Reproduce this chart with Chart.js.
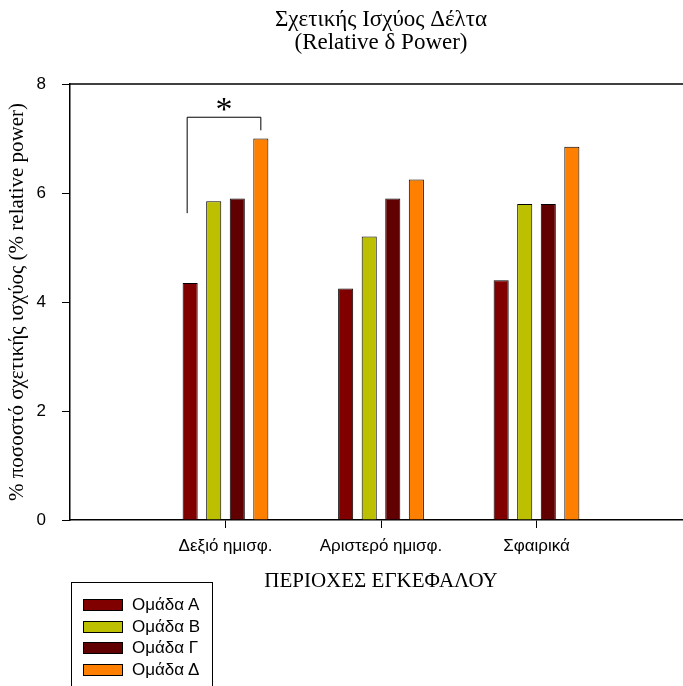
<!DOCTYPE html>
<html>
<head>
<meta charset="utf-8">
<script src="https://cdn.jsdelivr.net/npm/chart.js@4/dist/chart.umd.min.js"></script>
<style>
    html, body { margin: 0; padding: 0; background: #fff; overflow: hidden; }
    #wrap { position: relative; width: 683px; height: 686px; overflow: hidden; }
    #chartBox { position: absolute; left: 0; top: 0; width: 700px; height: 686px; }
    #legend {
        position: absolute; left: 71px; top: 582px; width: 142px; height: 120px;
        border: 1px solid #000; box-sizing: border-box;
        font-family: 'Liberation Sans', Arial, sans-serif; font-size: 17px; color: #000;
        padding-top: 11px;
    }
    .legend__row { display: flex; align-items: center; height: 21.7px; padding-left: 11px; }
    .legend__swatch { width: 40px; height: 12px; border: 1px solid #000; box-sizing: border-box; margin-right: 9px; }
</style>
</head>
<body>
<div id="wrap">
    <div id="chartBox"><canvas id="deltaChart" width="700" height="686"></canvas></div>
    <div id="legend"></div>
</div>
<script>
// Data
const regions = ['Δεξιό ημισφ.', 'Αριστερό ημισφ.', 'Σφαιρικά'];
const groupNames = ['Ομάδα Α', 'Ομάδα Β', 'Ομάδα Γ', 'Ομάδα Δ'];
const groupA = [4.35, 4.25, 4.4];
const groupB = [5.85, 5.2, 5.8];
const groupC = [5.9, 5.9, 5.8];
const groupD = [7.0, 6.25, 6.85];
const yTicks = [0, 2, 4, 6, 8];

const groupColors = ['#800000', '#bcc000', '#600000', '#ff8000'];

// empty slots either side so the three regions sit where the original put them
const labels = [''].concat(regions, ['']);
function pad(values) {
    return [null].concat(values, [null]);
}

const seriesValues = [groupA, groupB, groupC, groupD];
const datasets = seriesValues.map((values, i) => ({
    label: groupNames[i],
    data: pad(values),
    backgroundColor: groupColors[i],
    borderColor: '#000',
    borderWidth: 1,
    barPercentage: 0.64,
    categoryPercentage: 0.606
}));

// Frame line along the top of the plot area
const topFrame = {
    id: 'topFrame',
    afterDraw(chart) {
        const ctx = chart.ctx;
        const area = chart.chartArea;
        ctx.save();
        ctx.strokeStyle = '#000';
        ctx.lineWidth = 1.5;
        ctx.beginPath();
        ctx.moveTo(area.left, area.top);
        ctx.lineTo(area.right, area.top);
        ctx.stroke();
        ctx.restore();
    }
};

// Significance bracket between group A and group Δ on the right hemisphere
const sigBracket = {
    id: 'sigBracket',
    afterDatasetsDraw(chart) {
        const ctx = chart.ctx;
        const y = chart.scales.y;
        const left = chart.getDatasetMeta(0).data[1].x - 3;
        const right = chart.getDatasetMeta(3).data[1].x;
        const yLow = y.getPixelForValue(5.63);
        const yTop = y.getPixelForValue(7.39);
        const yRight = y.getPixelForValue(7.15);
        ctx.save();
        ctx.strokeStyle = '#000';
        ctx.lineWidth = 1;
        ctx.beginPath();
        ctx.moveTo(left, yLow);
        ctx.lineTo(left, yTop);
        ctx.lineTo(right, yTop);
        ctx.lineTo(right, yRight);
        ctx.stroke();
        ctx.fillStyle = '#000';
        ctx.font = '34px "Liberation Serif", "Times New Roman", serif';
        ctx.textAlign = 'center';
        ctx.textBaseline = 'middle';
        ctx.fillText('*', (left + right) / 2, y.getPixelForValue(7.5));
        ctx.restore();
    }
};

Chart.defaults.font.family = '"Liberation Sans", Arial, sans-serif';
Chart.defaults.color = '#000';

const serif = '"Liberation Serif", "Times New Roman", serif';

const chart = new Chart(document.getElementById('deltaChart'), {
    type: 'bar',
    data: { labels: labels, datasets: datasets },
    options: {
        responsive: false,
        animation: false,
        layout: { padding: { left: 0, right: 8, top: 0, bottom: 92 } },
        plugins: {
            legend: { display: false },
            tooltip: { enabled: false },
            title: {
                display: true,
                fullSize: false,
                text: ['Σχετικής Ισχύος Δέλτα', '(Relative δ Power)'],
                font: { family: serif, size: 23, weight: 'normal', lineHeight: 1.0 },
                color: '#000',
                padding: { top: 8, bottom: 30 }
            }
        },
        scales: {
            x: {
                offset: false,
                afterFit(scale) { scale.height = 74; },
                grid: {
                    offset: false,
                    drawOnChartArea: false,
                    drawTicks: true,
                    tickLength: 8,
                    tickColor: (ctx) => (ctx.index === 0 || ctx.index === labels.length - 1) ? 'rgba(0,0,0,0)' : '#000',
                    color: 'rgba(0,0,0,0)'
                },
                border: { color: '#000', width: 1.5 },
                ticks: { font: { size: 17 }, padding: 8, maxRotation: 0, autoSkip: false },
                title: {
                    display: true,
                    text: 'ΠΕΡΙΟΧΕΣ ΕΓΚΕΦΑΛΟΥ',
                    font: { family: serif, size: 21 },
                    padding: { top: 10, bottom: 0 }
                }
            },
            y: {
                min: 0,
                max: 8,
                afterFit(scale) { scale.width = 70; },
                afterBuildTicks(scale) {
                    scale.ticks = yTicks.map(v => ({ value: v }));
                },
                grid: {
                    drawOnChartArea: false,
                    drawTicks: true,
                    tickLength: 8,
                    tickColor: '#000'
                },
                border: { color: '#000', width: 1.5 },
                ticks: { font: { size: 17 }, padding: 16 },
                title: {
                    display: true,
                    text: '% ποσοστό σχετικής ισχύος (% relative power)',
                    font: { family: serif, size: 21 },
                    padding: { top: 5, bottom: 6 }
                }
            }
        }
    },
    plugins: [topFrame, sigBracket]
});

// Boxed legend in the lower left corner, built from the chart's datasets
const legendEl = document.getElementById('legend');
chart.data.datasets.forEach(ds => {
    const row = document.createElement('div');
    row.className = 'legend__row';
    const swatch = document.createElement('span');
    swatch.className = 'legend__swatch';
    swatch.style.background = ds.backgroundColor;
    const text = document.createElement('span');
    text.textContent = ds.label;
    row.appendChild(swatch);
    row.appendChild(text);
    legendEl.appendChild(row);
});
</script>
</body>
</html>
